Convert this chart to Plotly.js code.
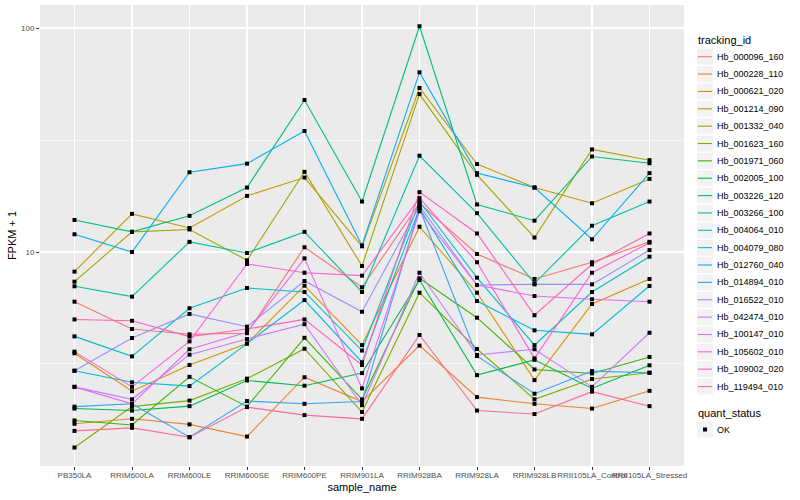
<!DOCTYPE html>
<html>
<head>
<meta charset="utf-8">
<script src="https://cdn.plot.ly/plotly-3.0.1.min.js"></script>
<style>html,body{margin:0;padding:0;background:#fff}#chart{width:800px;height:500px}</style>
</head>
<body>
<div id="chart"></div>
<script>
const samples = ["PB350LA","RRIM600LA","RRIM600LE","RRIM600SE","RRIM600PE","RRIM901LA","RRIM928BA","RRIM928LA","RRIM928LB","RRII105LA_Control","RRII105LA_Stressed"];

const Hb_000096_160 = [6.0, 4.53, 4.29, 4.34, 10.5, 6.96, 16.5, 9.8, 7.58, 9.0, 11.1];
const Hb_000228_110 = [1.71, 1.80, 1.70, 1.50, 2.76, 2.15, 3.82, 2.25, 2.10, 2.0, 2.40];
const Hb_000621_020 = [3.53, 2.39, 3.13, 3.90, 7.07, 3.84, 12.97, 6.58, 2.68, 5.86, 7.58];
const Hb_001214_090 = [8.17, 14.8, 12.8, 17.8, 21.5, 10.6, 54.0, 24.7, 19.4, 16.5, 21.2];
const Hb_001332_040 = [7.37, 12.3, 12.6, 9.18, 22.8, 8.66, 50.7, 22.1, 11.6, 28.7, 25.7];
const Hb_001623_160 = [1.34, 2.04, 2.17, 2.72, 3.70, 1.93, 6.58, 3.69, 2.20, 2.71, 2.89];
const Hb_001971_060 = [1.77, 1.69, 2.77, 2.04, 4.14, 2.20, 7.63, 5.09, 2.99, 2.87, 3.40];
const Hb_002005_100 = [2.0, 1.96, 2.05, 2.67, 2.53, 2.88, 7.5, 2.82, 3.30, 2.46, 3.12];
const Hb_003226_120 = [13.9, 12.3, 14.5, 19.4, 47.7, 16.8, 101.8, 16.3, 13.8, 26.7, 24.9];
const Hb_003266_100 = [7.03, 6.32, 11.1, 9.9, 12.3, 6.63, 26.9, 14.9, 7.25, 13.1, 16.8];
const Hb_004064_010 = [4.2, 3.42, 5.61, 6.91, 6.63, 3.63, 16.8, 7.68, 3.84, 6.63, 9.53];
const Hb_004079_080 = [2.95, 2.62, 2.52, 3.90, 6.10, 3.22, 15.7, 6.04, 4.47, 4.29, 7.05];
const Hb_012760_040 = [12.0, 10.0, 22.7, 24.8, 34.7, 10.7, 63.4, 22.5, 19.4, 11.4, 22.5];
const Hb_014894_010 = [2.04, 2.10, 1.49, 2.16, 2.10, 2.15, 15.7, 3.43, 2.33, 2.94, 2.89];
const Hb_016522_010 = [2.95, 4.13, 5.29, 4.64, 7.42, 5.41, 16.1, 7.12, 7.17, 7.17, 10.2];
const Hb_042474_010 = [2.50, 2.20, 3.48, 4.09, 4.76, 2.07, 8.08, 3.47, 3.68, 2.50, 4.36];
const Hb_100147_010 = [2.50, 2.10, 3.68, 4.38, 9.37, 2.46, 15.2, 7.12, 6.36, 6.15, 6.0];
const Hb_105602_010 = [3.59, 2.50, 3.99, 8.84, 8.08, 7.84, 17.4, 9.0, 3.35, 8.08, 11.0];
const Hb_109002_020 = [5.0, 4.93, 4.19, 4.53, 5.0, 3.13, 18.5, 12.1, 5.22, 8.81, 12.1];
const Hb_119494_010 = [1.59, 1.64, 1.49, 2.03, 1.87, 1.80, 4.26, 1.96, 1.89, 2.38, 2.05];

const trackingIds = ["Hb_000096_160","Hb_000228_110","Hb_000621_020","Hb_001214_090","Hb_001332_040","Hb_001623_160","Hb_001971_060","Hb_002005_100","Hb_003226_120","Hb_003266_100","Hb_004064_010","Hb_004079_080","Hb_012760_040","Hb_014894_010","Hb_016522_010","Hb_042474_010","Hb_100147_010","Hb_105602_010","Hb_109002_020","Hb_119494_010"];
const seriesValues = [Hb_000096_160,Hb_000228_110,Hb_000621_020,Hb_001214_090,Hb_001332_040,Hb_001623_160,Hb_001971_060,Hb_002005_100,Hb_003226_120,Hb_003266_100,Hb_004064_010,Hb_004079_080,Hb_012760_040,Hb_014894_010,Hb_016522_010,Hb_042474_010,Hb_100147_010,Hb_105602_010,Hb_109002_020,Hb_119494_010];
const quantStatus = ["OK"];

const palette = ["#F8766D","#EA8331","#D89000","#C09B00","#A3A500","#7CAE00","#39B600","#00BB4E","#00BF7D","#00C1A3","#00BFC4","#00BAE0","#00B0F6","#35A2FF","#9590FF","#C77CFF","#E76BF3","#FA62DB","#FF62BC","#FF6C91"];

const traces = [];
trackingIds.forEach((id, i) => {
  traces.push({type:'scatter', mode:'lines', x:samples, y:seriesValues[i], name:id,
    line:{color:palette[i], width:1.1}, showlegend:false, hoverinfo:'skip'});
});
trackingIds.forEach((id, i) => {
  traces.push({type:'scatter', mode:'markers', x:samples, y:seriesValues[i], name:id,
    marker:{color:'#000', symbol:'square', size:4}, showlegend:false, hoverinfo:'skip'});
});

// plot area geometry (pixels) used for the hand-built ggplot-style legend
const M = {l:40, r:116, t:5, b:34};
const W = 800 - M.l - M.r, H = 500 - M.t - M.b;
const px = x => (x - M.l) / W;
const py = y => (500 - M.b - y) / H;

const font = "Liberation Sans, Arial, sans-serif";
const shapes = [];
const annotations = [];
const keyX0 = 697, keyX1 = 713, keyH = 16, textX = 715;
const firstY = 56.7, step = 17.36;

annotations.push({xref:'paper', yref:'paper', x:px(695.5), y:py(40.5), xanchor:'left', yanchor:'middle',
  text:'tracking_id', showarrow:false, font:{family:font, size:11, color:'#000'}});
trackingIds.forEach((id, i) => {
  const cy = firstY + i * step;
  shapes.push({type:'rect', xref:'paper', yref:'paper', x0:px(keyX0), x1:px(keyX1),
    y0:py(cy - keyH/2), y1:py(cy + keyH/2), fillcolor:'#F2F2F2', line:{width:0}, layer:'below'});
  shapes.push({type:'line', xref:'paper', yref:'paper', x0:px(keyX0 + 1), x1:px(keyX1 - 1),
    y0:py(cy), y1:py(cy), line:{color:palette[i], width:1.1}});
  annotations.push({xref:'paper', yref:'paper', x:px(textX), y:py(cy), xanchor:'left', yanchor:'middle',
    text:id, showarrow:false, font:{family:font, size:9, color:'#000'}});
});
const qTitleY = 412.7, qItemY = 429.5;
annotations.push({xref:'paper', yref:'paper', x:px(695.5), y:py(qTitleY), xanchor:'left', yanchor:'middle',
  text:'quant_status', showarrow:false, font:{family:font, size:11, color:'#000'}});
shapes.push({type:'rect', xref:'paper', yref:'paper', x0:px(keyX0), x1:px(keyX1),
  y0:py(qItemY - keyH/2), y1:py(qItemY + keyH/2), fillcolor:'#F2F2F2', line:{width:0}, layer:'below'});
shapes.push({type:'rect', xref:'paper', yref:'paper', x0:px(703), x1:px(707),
  y0:py(qItemY - 2), y1:py(qItemY + 2), fillcolor:'#000', line:{width:0}});
annotations.push({xref:'paper', yref:'paper', x:px(textX), y:py(qItemY), xanchor:'left', yanchor:'middle',
  text:quantStatus[0], showarrow:false, font:{family:font, size:9, color:'#000'}});

const layout = {
  width:800, height:500,
  margin:M,
  paper_bgcolor:'#fff', plot_bgcolor:'#EBEBEB',
  font:{family:font, size:9, color:'#000'},
  xaxis:{type:'category', range:[-0.6, 10.6], showgrid:true, gridcolor:'#fff', gridwidth:1.1,
    zeroline:false, showline:false, ticks:'outside', ticklen:3, tickcolor:'#333', tickwidth:1,
    tickangle:0, ticklabelstandoff:-2, tickfont:{family:font, size:8, color:'#4D4D4D'},
    title:{text:'sample_name', font:{family:font, size:11, color:'#000'}, standoff:4}},
  yaxis:{type:'log', range:[0.0446, 2.1027], tickvals:[10,100], ticktext:['10','100'],
    showgrid:true, gridcolor:'#fff', gridwidth:1.1, zeroline:false, showline:false,
    ticks:'outside', ticklen:3, tickcolor:'#333', tickwidth:1,
    tickfont:{family:font, size:8, color:'#4D4D4D'},
    minor:{tickmode:'array', tickvals:[3.1623, 31.623], showgrid:true, gridcolor:'#fff', gridwidth:0.5, ticks:''},
    title:{text:'FPKM + 1', font:{family:font, size:11, color:'#000'}, standoff:2}},
  shapes:shapes,
  annotations:annotations,
  showlegend:false
};
Plotly.newPlot('chart', traces, layout, {displayModeBar:false, staticPlot:true});
</script>
</body>
</html>
